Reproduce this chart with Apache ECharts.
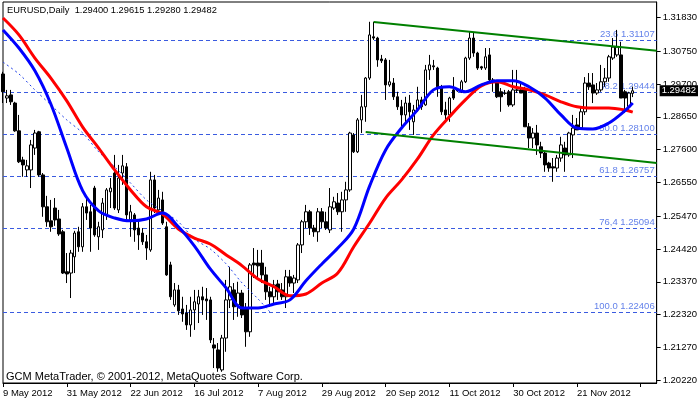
<!DOCTYPE html>
<html><head><meta charset="utf-8">
<script src="https://cdn.jsdelivr.net/npm/echarts@6/dist/echarts.min.js"></script>
<style>html,body{margin:0;padding:0;background:#fff}#c{width:700px;height:402px}</style>
</head><body><div id="c"></div>
<script>
const symbolName = 'EURUSD';
const timeframe = 'Daily';
const copyrightText = 'GCM MetaTrader, \u00a9 2001-2012, MetaQuotes Software Corp.';
const dateLabels = ['9 May 2012','31 May 2012','22 Jun 2012','16 Jul 2012','7 Aug 2012','29 Aug 2012','20 Sep 2012','11 Oct 2012','30 Oct 2012','21 Nov 2012'];
const labelEvery = 16;
const barSlots = 165;
const priceTicks = [1.31830,1.30750,1.29700,1.28650,1.27600,1.26550,1.25470,1.24420,1.23370,1.22320,1.21270,1.20220];
const priceMin = 1.20131, priceMax = 1.32323;
// [open, close, low, high]
const candles = [
[1.3002,1.2945,1.2909,1.3009],[1.2925,1.2932,1.2909,1.2951],[1.2935,1.2913,1.2903,1.2951],[1.2909,1.2820,1.2817,1.2913],
[1.2820,1.2721,1.2717,1.2871],[1.2727,1.2711,1.2673,1.2737],[1.2695,1.2708,1.2673,1.2727],[1.2695,1.2775,1.2637,1.2791],
[1.2765,1.2813,1.2743,1.2823],[1.2817,1.2679,1.2673,1.2820],[1.2679,1.2577,1.2545,1.2685],[1.2577,1.2529,1.2513,1.2612],
[1.2532,1.2513,1.2497,1.2599],[1.2573,1.2535,1.2516,1.2605],[1.2538,1.2490,1.2484,1.2567],[1.2497,1.2365,1.2362,1.2503],
[1.2369,1.2362,1.2333,1.2429],[1.2365,1.2429,1.2285,1.2439],[1.2417,1.2493,1.2365,1.2500],[1.2497,1.2449,1.2433,1.2513],
[1.2449,1.2577,1.2433,1.2589],[1.2577,1.2557,1.2535,1.2605],[1.2561,1.2509,1.2433,1.2583],[1.2637,1.2487,1.2481,1.2644],
[1.2481,1.2513,1.2439,1.2529],[1.2503,1.2589,1.2477,1.2605],[1.2551,1.2631,1.2535,1.2637],[1.2625,1.2637,1.2573,1.2669],
[1.2685,1.2573,1.2567,1.2743],[1.2567,1.2669,1.2557,1.2711],[1.2685,1.2708,1.2647,1.2743],[1.2705,1.2551,1.2535,1.2717],
[1.2535,1.2561,1.2481,1.2583],[1.2551,1.2503,1.2465,1.2557],[1.2509,1.2487,1.2439,1.2529],[1.2493,1.2465,1.2455,1.2509],
[1.2465,1.2445,1.2407,1.2487],[1.2439,1.2663,1.2433,1.2689],[1.2663,1.2573,1.2557,1.2679],[1.2567,1.2605,1.2551,1.2631],
[1.2599,1.2525,1.2519,1.2625],[1.2513,1.2359,1.2356,1.2529],[1.2391,1.2289,1.2279,1.2401],[1.2263,1.2311,1.2257,1.2333],
[1.2311,1.2244,1.2231,1.2327],[1.2250,1.2234,1.2209,1.2289],[1.2237,1.2199,1.2183,1.2263],[1.2199,1.2247,1.2161,1.2289],
[1.2247,1.2273,1.2183,1.2311],[1.2266,1.2289,1.2205,1.2311],[1.2289,1.2279,1.2231,1.2321],[1.2282,1.2276,1.2215,1.2317],
[1.2279,1.2151,1.2141,1.2289],[1.2135,1.2125,1.2061,1.2157],[1.2119,1.2061,1.2049,1.2141],[1.2055,1.2157,1.2049,1.2167],
[1.2157,1.2279,1.2113,1.2343],[1.2279,1.2321,1.2253,1.2385],[1.2311,1.2257,1.2215,1.2333],[1.2263,1.2301,1.2225,1.2337],
[1.2301,1.2231,1.2221,1.2311],[1.2253,1.2177,1.2129,1.2269],[1.2177,1.2391,1.2161,1.2397],[1.2397,1.2391,1.2349,1.2445],
[1.2397,1.2388,1.2349,1.2439],[1.2397,1.2359,1.2333,1.2439],[1.2359,1.2305,1.2279,1.2385],[1.2305,1.2289,1.2257,1.2321],
[1.2289,1.2327,1.2269,1.2343],[1.2330,1.2305,1.2279,1.2343],[1.2311,1.2289,1.2279,1.2333],[1.2289,1.2353,1.2253,1.2375],
[1.2353,1.2333,1.2321,1.2375],[1.2333,1.2349,1.2301,1.2359],[1.2343,1.2455,1.2333,1.2461],[1.2455,1.2529,1.2429,1.2535],
[1.2529,1.2561,1.2509,1.2583],[1.2561,1.2509,1.2487,1.2567],[1.2509,1.2497,1.2481,1.2519],[1.2497,1.2561,1.2465,1.2573],
[1.2561,1.2529,1.2509,1.2573],[1.2529,1.2509,1.2503,1.2561],[1.2503,1.2577,1.2493,1.2637],[1.2573,1.2593,1.2567,1.2609],
[1.2589,1.2561,1.2551,1.2621],[1.2561,1.2599,1.2497,1.2625],[1.2599,1.2631,1.2561,1.2657],[1.2631,1.2813,1.2625,1.2817],
[1.2807,1.2753,1.2749,1.2813],[1.2753,1.2855,1.2749,1.2861],[1.2855,1.2897,1.2813,1.2935],[1.2897,1.2989,1.2849,1.2992],
[1.2989,1.3127,1.2983,1.3169],[1.3121,1.3117,1.3111,1.3169],[1.3117,1.3047,1.3025,1.3121],[1.3050,1.3044,1.3037,1.3063],
[1.3047,1.2967,1.2919,1.3053],[1.2967,1.2977,1.2961,1.3047],[1.2973,1.2929,1.2919,1.2989],[1.2929,1.2897,1.2887,1.2945],
[1.2897,1.2871,1.2829,1.2919],[1.2871,1.2909,1.2839,1.2929],[1.2909,1.2881,1.2823,1.2935],[1.2849,1.2887,1.2807,1.2903],
[1.2887,1.2919,1.2881,1.2961],[1.2919,1.2897,1.2887,1.2929],[1.2903,1.3015,1.2900,1.3031],[1.3015,1.3031,1.2983,1.3063],
[1.3028,1.3025,1.3015,1.3047],[1.3021,1.2961,1.2929,1.3025],[1.2961,1.2881,1.2871,1.2967],[1.2887,1.2871,1.2849,1.2913],
[1.2871,1.2925,1.2849,1.2929],[1.2951,1.2925,1.2919,1.2992],[1.2951,1.2948,1.2945,1.2957],[1.2945,1.2977,1.2941,1.2983],
[1.2977,1.3053,1.2973,1.3057],[1.3053,1.3117,1.3047,1.3137],[1.3117,1.3069,1.3057,1.3133],[1.3069,1.3021,1.3015,1.3073],
[1.3025,1.3021,1.3015,1.3028],[1.3021,1.3057,1.3015,1.3085],[1.3063,1.2983,1.2977,1.3085],[1.2977,1.2983,1.2945,1.2989],
[1.2977,1.2929,1.2925,1.2983],[1.2945,1.2929,1.2881,1.2957],[1.2941,1.2940,1.2935,1.2951],[1.2945,1.2903,1.2897,1.2951],
[1.2903,1.2951,1.2897,1.3015],[1.2951,1.2950,1.2941,1.3015],[1.2951,1.2941,1.2941,1.2977],[1.2951,1.2833,1.2833,1.2961],
[1.2833,1.2797,1.2765,1.2845],[1.2797,1.2813,1.2765,1.2829],[1.2813,1.2775,1.2743,1.2839],[1.2769,1.2749,1.2733,1.2785],
[1.2749,1.2711,1.2689,1.2753],[1.2717,1.2701,1.2689,1.2721],[1.2705,1.2701,1.2657,1.2733],[1.2701,1.2733,1.2689,1.2743],
[1.2733,1.2775,1.2721,1.2801],[1.2765,1.2743,1.2689,1.2785],[1.2743,1.2813,1.2737,1.2817],[1.2807,1.2829,1.2733,1.2871],
[1.2839,1.2823,1.2823,1.2861],[1.2829,1.2881,1.2823,1.2893],[1.2881,1.2973,1.2871,1.2992],[1.2973,1.2961,1.2951,1.3005],
[1.2967,1.2941,1.2909,1.3005],[1.2941,1.2951,1.2935,1.2973],[1.2951,1.2977,1.2945,1.3031],[1.2977,1.2989,1.2961,1.3021],
[1.2989,1.3057,1.2977,1.3063],[1.3053,1.3088,1.3047,1.3117],[1.3063,1.3088,1.3057,1.3143],[1.3063,1.2925,1.2925,1.3105],
[1.2945,1.2925,1.2877,1.2951],[1.2897,1.2941,1.2881,1.2945],[1.29400,1.29482,1.29280,1.29615]
];
// moving averages read every 4 bars (bars 0,4,...,156) plus the last bar 158
const maStep = 4;
const maLastBar = 158;
const blueMA = [1.3143,1.3085,1.3012,1.2906,1.2765,1.2628,1.2564,1.2541,1.2532,1.2538,
1.2557,1.2513,1.2452,1.2378,1.2317,1.2253,1.2253,1.2266,1.2279,1.2340,
1.2394,1.2445,1.2506,1.2644,1.2759,1.2829,1.2887,1.2951,1.2961,1.2945,
1.2967,1.2980,1.2980,1.2961,1.2925,1.2871,1.2829,1.2826,1.2845,1.2884,1.2909];
const redMA = [1.3181,1.3127,1.3053,1.2989,1.2916,1.2832,1.2765,1.2695,1.2631,1.2577,
1.2554,1.2506,1.2477,1.2458,1.2423,1.2388,1.2346,1.2321,1.2292,1.2298,
1.2333,1.2365,1.2449,1.2525,1.2605,1.2663,1.2730,1.2807,1.2865,1.2919,
1.2964,1.2977,1.2961,1.2951,1.2935,1.2913,1.2897,1.2893,1.2893,1.2887,1.2880];
// thin dotted average, visible part: bars 0..64 every 4 bars, then bar 67
const dottedMA = [1.3040,1.3002,1.2951,1.2903,1.2855,1.2813,1.2753,1.2705,1.2653,1.2599,1.2564,1.2529,1.2474,1.2442,1.2394,1.2333,1.2282];
const dottedLastBar = 67, dottedLast = 1.2240;
const upperChannel = [[93,1.3168],[164,1.3076]];
const lowerChannel = [[91,1.2816],[164,1.2717]];
const fibLevels = [['23.6',1.31107],['38.2',1.29444],['50.0',1.28100],['61.8',1.26757],['76,4',1.25094],['100.0',1.22406]];
const lastBar = candles[candles.length-1];

const categories = [];
for (let i = 0; i < barSlots; i++) categories.push(i % labelEvery === 0 && dateLabels[i/labelEvery] ? dateLabels[i/labelEvery] : '');
function maData(vals, lastIdx) {
  const out = vals.map((v,k)=>[k*maStep, v]);
  if (lastIdx != null) { out[out.length-1] = [lastIdx, vals[vals.length-1]]; }
  return out;
}
const blueData = maData(blueMA, maLastBar);
const redData = maData(redMA, maLastBar);
const dottedData = dottedMA.map((v,k)=>[k*maStep, v]).concat([[dottedLastBar, dottedLast]]);

const FONT = 'Liberation Sans';
const chart = echarts.init(document.getElementById('c'));
chart.setOption({
  animation: false,
  backgroundColor: '#fff',
  title: [
    { text: symbolName + ',' + timeframe + '  ' + [lastBar[0],lastBar[3],lastBar[2],lastBar[1]].map(v=>v.toFixed(5)).join(' '),
      left: 7, top: 6, padding: 0, textStyle: { fontFamily: FONT, fontSize: 9.3, fontWeight: 'normal', color: '#000' } },
    { text: copyrightText, left: 6, top: 371, padding: 0,
      textStyle: { fontFamily: FONT, fontSize: 11, fontWeight: 'normal', color: '#000' } }
  ],
  grid: { left: 3, top: 2, width: 657, height: 381, show: true, borderColor: '#000', borderWidth: 1, backgroundColor: 'transparent' },
  xAxis: {
    type: 'category', data: categories, boundaryGap: false,
    axisLine: { show: true, lineStyle: { color: '#000', width: 1 } },
    axisTick: { show: true, interval: (i)=> i % labelEvery === 0, length: 4, lineStyle: { color: '#000' } },
    axisLabel: { show: true, interval: 0, align: 'left', margin: 5, fontFamily: FONT, fontSize: 9.5, color: '#000' },
    splitLine: { show: false }
  },
  yAxis: {
    type: 'value', position: 'right', min: priceMin, max: priceMax, scale: true,
    axisLine: { show: true, lineStyle: { color: '#000', width: 1 } },
    axisTick: { show: true, customValues: priceTicks, length: 4, lineStyle: { color: '#000' } },
    axisLabel: { show: true, customValues: priceTicks, margin: 6, formatter: v => v.toFixed(5), fontFamily: FONT, fontSize: 9.5, color: '#000' },
    splitLine: { show: false }
  },
  series: [
    {
      type: 'candlestick', data: candles, barWidth: 3, clip: false, z: 2,
      itemStyle: { color: '#fff', color0: '#000', borderColor: '#000', borderColor0: '#000', borderWidth: 1 },
      markLine: {
        silent: true, symbol: 'none', z: 1, animation: false, precision: 5,
        lineStyle: { color: '#3a5be0', type: [4,3], width: 1 },
        label: { show: true, position: 'insideEndTop', distance: [2, 1], fontFamily: FONT, fontSize: 9.5, color: '#6482ea',
          formatter: p => p.name },
        data: fibLevels.map(f => ({ name: f[0] + ' ' + f[1].toFixed(5), yAxis: f[1] }))
      }
    },
    {
      type: 'line', data: dottedData, smooth: 0.3, showSymbol: false, z: 3,
      lineStyle: { color: '#1f3fe8', width: 1, type: [2,3] }
    },
    {
      type: 'line', data: redData, smooth: 0.35, showSymbol: false, z: 4,
      lineStyle: { color: '#ff0000', width: 3 }
    },
    {
      type: 'line', data: blueData, smooth: 0.35, showSymbol: false, z: 5,
      lineStyle: { color: '#0000ff', width: 3 }
    },
    {
      type: 'line', data: upperChannel, showSymbol: false, z: 6,
      lineStyle: { color: '#008000', width: 2 }
    },
    {
      type: 'line', data: lowerChannel, showSymbol: false, z: 6,
      lineStyle: { color: '#008000', width: 2 },
      markLine: {
        silent: true, symbol: 'none', z: 10, animation: false, precision: 5,
        lineStyle: { width: 0, color: '#000' },
        label: { show: true, position: 'end', distance: 3, backgroundColor: '#000', color: '#fff', padding: [1, 2, 0, 2],
          fontFamily: FONT, fontSize: 9.5, formatter: p => Number(p.value).toFixed(5) },
        data: [{ yAxis: lastBar[1] }]
      }
    }
  ]
});
</script></body></html>
